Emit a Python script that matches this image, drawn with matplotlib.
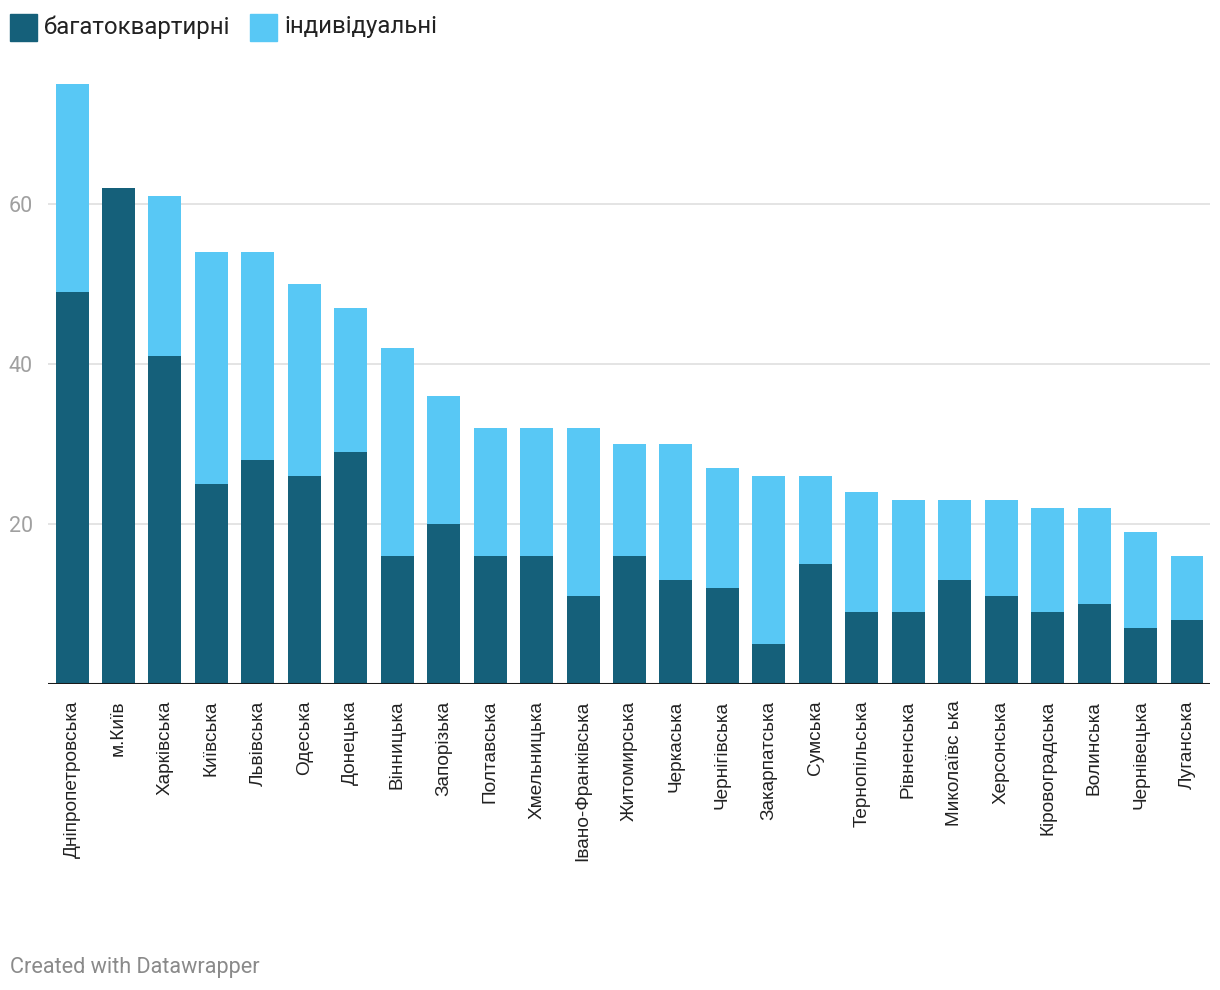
import matplotlib
matplotlib.use("Agg")
import matplotlib.pyplot as plt
from matplotlib.patches import Rectangle
import numpy as np

regions = ["Дніпропетровська", "м.Київ", "Харківська", "Київська", "Львівська",
           "Одеська", "Донецька", "Вінницька", "Запорізька", "Полтавська",
           "Хмельницька", "Івано-Франківська", "Житомирська", "Черкаська",
           "Чернігівська", "Закарпатська", "Сумська", "Тернопільська",
           "Рівненська", "Миколаївс ька", "Херсонська", "Кіровоградська",
           "Волинська", "Чернівецька", "Луганська"]
multi = [49, 62, 41, 25, 28, 26, 29, 16, 20, 16, 16, 11, 16, 13, 12, 5, 15, 9, 9, 13, 11, 9, 10, 7, 8]
individual = [26, 0, 20, 29, 26, 24, 18, 26, 16, 16, 16, 21, 14, 17, 15, 21, 11, 15, 14, 10, 12, 13, 12, 12, 8]
yticks = [20, 40, 60]
series_names = ["багатоквартирні", "індивідуальні"]

DARK = "#15607a"
LIGHT = "#58c8f5"

W, H = 1220, 990
fig = plt.figure(figsize=(W / 100, H / 100), dpi=100)
fig.patch.set_facecolor("white")
ax = fig.add_axes([48 / W, (H - 684) / H, (1210 - 48) / W, (684 - 72) / H])

x = np.arange(len(regions))
ax.bar(x, multi, width=0.71, color=DARK, zorder=3)
ax.bar(x, individual, bottom=multi, width=0.71, color=LIGHT, zorder=3)

ax.set_xlim(-0.517, len(regions) - 1 + 0.495)
ax.set_ylim(0, 76.5)
ax.set_yticks(yticks)
ax.set_yticklabels([str(v) for v in yticks], fontsize=15.5, color="#a0a0a0", family="Roboto")
ax.tick_params(axis="y", length=0, pad=11)
for v in yticks:
    ax.axhline(v, color="#e2e2e2", lw=1.3, zorder=1)
ax.axhline(0, color="#1a1a1a", lw=2.2, zorder=4)

ax.set_xticks(x)
ax.set_xticklabels(regions, rotation=90, fontsize=13.7, family="Liberation Sans", color="#222222")
ax.tick_params(axis="x", length=0, pad=12)
for s in ax.spines.values():
    s.set_visible(False)

# legend
for i, (name, col, lx) in enumerate(zip(series_names, [DARK, LIGHT], [10, 250])):
    fig.patches.append(Rectangle((lx / W, (H - 41) / H), 27 / W, 27 / H, color=col,
                                 transform=fig.transFigure, figure=fig))
    fig.text((lx + 34) / W, (H - 27) / H, name, fontsize=17.3, family="Roboto",
             color="#222222", va="center", ha="left")

fig.text(10 / W, (H - 967) / H, "Created with Datawrapper", fontsize=15.6,
         family="Roboto", color="#8a8a8a", va="center", ha="left")

fig.savefig("out.png", dpi=100)
